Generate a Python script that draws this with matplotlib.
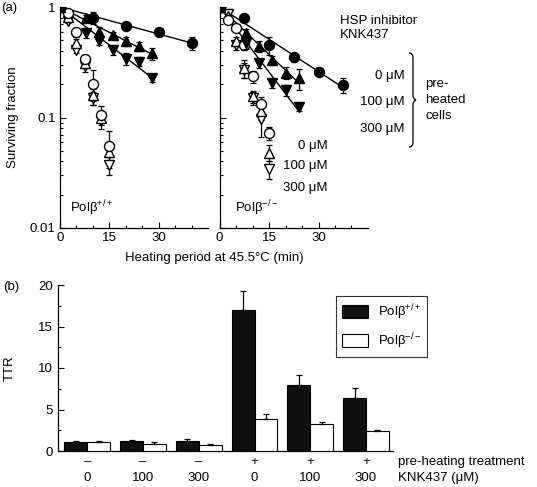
import numpy as np
import matplotlib
matplotlib.use("Agg")
import matplotlib.pyplot as plt
from matplotlib.path import Path
from matplotlib.patches import PathPatch, Patch
from matplotlib.ticker import FixedLocator, NullFormatter, LogLocator

plt.rcParams['font.family'] = ['Liberation Sans', 'DejaVu Sans']
plt.rcParams['font.size'] = 9.5
plt.rcParams['mathtext.fontset'] = 'custom'
plt.rcParams['mathtext.rm'] = 'Liberation Sans'
plt.rcParams['mathtext.it'] = 'Liberation Sans'
plt.rcParams['mathtext.default'] = 'rm'

# ---------------- data: panel (a) ----------------
# Pol beta +/+ , pre-heated cells (filled symbols)
wt_pre_t0 = [0, 10, 20, 30, 40]
wt_pre_v0 = [1.0, 0.80, 0.67, 0.59, 0.47]
wt_pre_e0 = [0, 0.10, 0.04, 0.04, 0.065]
wt_pre_t100 = [0, 8, 12, 16, 20, 24, 28]
wt_pre_v100 = [1.0, 0.79, 0.60, 0.56, 0.49, 0.44, 0.38]
wt_pre_e100 = [0, 0.05, 0.06, 0.04, 0.05, 0.04, 0.05]
wt_pre_t300 = [0, 8, 12, 16, 20, 24, 28]
wt_pre_v300 = [1.0, 0.58, 0.49, 0.41, 0.34, 0.32, 0.23]
wt_pre_e300 = [0, 0.06, 0.04, 0.04, 0.04, 0.03, 0.02]
# Pol beta +/+ , not pre-heated (open symbols)
wt_t = [0, 2.5, 5, 7.5, 10, 12.5, 15]
wt_v0 = [1.0, 0.88, 0.59, 0.34, 0.20, 0.106, 0.055]
wt_e0 = [0, 0.04, 0.05, 0.03, 0.07, 0.02, 0.02]
wt_v100 = [1.0, 0.82, 0.47, 0.31, 0.16, 0.099, 0.049]
wt_e100 = [0, 0.03, 0.04, 0.03, 0.02, 0.01, 0.01]
wt_v300 = [1.0, 0.75, 0.41, 0.29, 0.15, 0.094, 0.037]
wt_e300 = [0, 0.04, 0.03, 0.03, 0.02, 0.015, 0.007]

# Pol beta -/- , pre-heated cells (filled symbols)
ko_pre_t0 = [0, 7.5, 15, 22.5, 30, 37.5]
ko_pre_v0 = [1.0, 0.79, 0.45, 0.35, 0.26, 0.197]
ko_pre_e0 = [0, 0.05, 0.08, 0.03, 0.02, 0.03]
ko_pre_t100 = [0, 8, 12, 16, 20, 24]
ko_pre_v100 = [1.0, 0.58, 0.44, 0.33, 0.255, 0.227]
ko_pre_e100 = [0, 0.05, 0.05, 0.03, 0.03, 0.05]
ko_pre_t300 = [0, 8, 12, 16, 20, 24]
ko_pre_v300 = [1.0, 0.47, 0.31, 0.205, 0.178, 0.124]
ko_pre_e300 = [0, 0.05, 0.03, 0.02, 0.02, 0.01]
# Pol beta -/- , not pre-heated (open symbols)
ko_t = [0, 2.5, 5, 7.5, 10, 12.5, 15]
ko_v0 = [1.0, 0.77, 0.64, 0.45, 0.235, 0.133, 0.072]
ko_e0 = [0, 0.04, 0.04, 0.04, 0.03, 0.02, 0.01]
ko_v100 = [1.0, 0.83, 0.49, 0.28, 0.155, 0.115, 0.048]
ko_e100 = [0, 0.03, 0.04, 0.05, 0.02, 0.02, 0.008]
ko_v300 = [1.0, 0.86, 0.45, 0.27, 0.15, 0.096, 0.034]
ko_e300 = [0, 0.03, 0.04, 0.04, 0.02, 0.03, 0.006]

# ---------------- data: panel (b) ----------------
preheat_labels = ['–', '–', '–', '+', '+', '+']
knk_labels = ['0', '100', '300', '0', '100', '300']
ttr_wt = [1.1, 1.2, 1.25, 17.0, 7.9, 6.4]
ttr_wt_err = [0.1, 0.1, 0.15, 2.3, 1.3, 1.15]
ttr_ko = [1.1, 0.85, 0.75, 3.85, 3.2, 2.45]
ttr_ko_err = [0.05, 0.2, 0.1, 0.55, 0.25, 0.1]

W, H = 537, 487
fig = plt.figure(figsize=(W / 100, H / 100), dpi=100)


def fx(x):
    return x / W


def fy(y):
    return 1 - y / H


def ax_rect(x0, y0, x1, y1):
    return [fx(x0), fy(y1), (x1 - x0) / W, (y1 - y0) / H]


axL = fig.add_axes(ax_rect(60, 7, 208, 228))
axR = fig.add_axes(ax_rect(219.5, 7, 368, 228))
axB = fig.add_axes(ax_rect(58.3, 285, 393.3, 451))

MS = {'o': 7.2, '^': 7.6, 'v': 7.6}


def plot_series(ax, t, v, e, marker, filled, z):
    ax.errorbar(t, v, yerr=e, fmt='none', ecolor='black', elinewidth=0.9,
                capsize=2.4, capthick=0.9, zorder=z - 0.5)
    ax.plot(t, v, linestyle='none', marker=marker, markersize=MS[marker],
            markerfacecolor='black' if filled else 'white',
            markeredgecolor='black', markeredgewidth=1.0, zorder=z)


def fit_line(ax, t, v):
    t = np.asarray(t, float)
    lv = np.log10(np.asarray(v, float))
    k = np.sum(t * lv) / np.sum(t * t)
    tt = np.array([0, t.max()])
    ax.plot(tt, 10 ** (k * tt), color='black', lw=1.0, zorder=2)


def style_surv(ax, labels):
    ax.set_yscale('log')
    ax.set_ylim(0.01, 1)
    ax.set_xlim(0, 45)
    ax.spines['top'].set_visible(False)
    ax.spines['right'].set_visible(False)
    ax.xaxis.set_major_locator(FixedLocator([0, 15, 30]))
    ax.xaxis.set_minor_locator(FixedLocator([5, 10, 20, 25, 35, 40]))
    ax.yaxis.set_major_locator(LogLocator(base=10, numticks=5))
    ax.yaxis.set_minor_locator(LogLocator(base=10, subs=np.arange(2, 10), numticks=20))
    ax.yaxis.set_minor_formatter(NullFormatter())
    ax.tick_params(which='major', direction='in', length=4, width=0.8, pad=3)
    ax.tick_params(which='minor', direction='in', length=2.5, width=0.8)
    if labels:
        ax.set_yticks([0.01, 0.1, 1])
        ax.set_yticklabels(['0.01', '0.1', '1'])
    else:
        ax.yaxis.set_major_formatter(NullFormatter())
    for s in ax.spines.values():
        s.set_linewidth(0.9)
    ax.patch.set_alpha(0)


for ax, pre, opn in [
    (axL,
     [(wt_pre_t0, wt_pre_v0, wt_pre_e0, 'o'), (wt_pre_t100, wt_pre_v100, wt_pre_e100, '^'),
      (wt_pre_t300, wt_pre_v300, wt_pre_e300, 'v')],
     [(wt_t, wt_v0, wt_e0, 'o'), (wt_t, wt_v100, wt_e100, '^'), (wt_t, wt_v300, wt_e300, 'v')]),
    (axR,
     [(ko_pre_t0, ko_pre_v0, ko_pre_e0, 'o'), (ko_pre_t100, ko_pre_v100, ko_pre_e100, '^'),
      (ko_pre_t300, ko_pre_v300, ko_pre_e300, 'v')],
     [(ko_t, ko_v0, ko_e0, 'o'), (ko_t, ko_v100, ko_e100, '^'), (ko_t, ko_v300, ko_e300, 'v')]),
]:
    for t, v, e, m in pre:
        fit_line(ax, t, v)
    for i, (t, v, e, m) in enumerate(opn):
        plot_series(ax, t, v, e, m, False, 4 - i * 0.1)
    for i, (t, v, e, m) in enumerate(pre[::-1]):
        plot_series(ax, t, v, e, m, True, 5 + i * 0.1)

style_surv(axL, True)
style_surv(axR, False)
axL.set_ylabel('Surviving fraction', labelpad=8)

# panel (a) texts
fig.text(fx(1), fy(8), '(a)', ha='left', va='center')
fig.text(fx(214), fy(258), 'Heating period at 45.5°C (min)', ha='center', va='center')
fig.text(fx(70), fy(208), r'Polβ$^{+/+}$', ha='left', va='center')
fig.text(fx(235), fy(208), r'Polβ$^{−/−}$', ha='left', va='center')
fig.text(fx(340), fy(20.7), 'HSP inhibitor', ha='left', va='center')
fig.text(fx(340), fy(35), 'KNK437', ha='left', va='center')
for lab, yy in zip(['0 μM', '100 μM', '300 μM'], [76, 101.7, 129.3]):
    fig.text(fx(405), fy(yy), lab, ha='right', va='center')
for lab, yy in zip(['0 μM', '100 μM', '300 μM'], [146, 165.7, 188.3]):
    fig.text(fx(327.3), fy(yy), lab, ha='right', va='center')
for lab, yy in zip(['pre-', 'heated', 'cells'], [84.5, 100, 116]):
    fig.text(fx(425), fy(yy), lab, ha='left', va='center')

# curly brace
bx, ytop, ybot = 410.5, 53, 147
ym = (ytop + ybot) / 2
pts = [
    (bx - 1.5, ytop), (bx + 2.5, ytop), (bx + 2.5, ytop + 5),
    (bx + 2.5, ym - 5),
    (bx + 2.5, ym - 1), (bx + 5.5, ym),
    (bx + 2.5, ym + 1), (bx + 2.5, ym + 5),
    (bx + 2.5, ybot - 5),
    (bx + 2.5, ybot), (bx - 1.5, ybot),
]
codes = [Path.MOVETO, Path.CURVE3, Path.CURVE3, Path.LINETO,
         Path.CURVE3, Path.CURVE3, Path.CURVE3, Path.CURVE3,
         Path.LINETO, Path.CURVE3, Path.CURVE3]
verts = [(fx(x), fy(y)) for x, y in pts]
fig.patches.append(PathPatch(Path(verts, codes), transform=fig.transFigure,
                             fill=False, lw=0.9, edgecolor='black'))

# ---------------- panel (b) ----------------
x = np.arange(len(ttr_wt))
bw = 0.41
axB.bar(x - bw / 2, ttr_wt, width=bw, color='#111111', edgecolor='black', lw=0.8,
        yerr=[np.zeros(len(ttr_wt)), ttr_wt_err], capsize=2.5,
        error_kw=dict(elinewidth=0.9, capthick=0.9, ecolor='black'), zorder=3)
axB.bar(x + bw / 2, ttr_ko, width=bw, color='white', edgecolor='black', lw=0.8,
        yerr=[np.zeros(len(ttr_ko)), ttr_ko_err], capsize=2.5,
        error_kw=dict(elinewidth=0.9, capthick=0.9, ecolor='black'), zorder=3)
axB.set_xlim(-0.52, 5.49)
axB.set_ylim(0, 20)
axB.set_yticks([0, 5, 10, 15, 20])
axB.set_yticks(np.arange(2.5, 20, 5), minor=True)
axB.set_xticks([])
axB.spines['top'].set_visible(False)
axB.spines['right'].set_visible(False)
for s in axB.spines.values():
    s.set_linewidth(0.9)
axB.tick_params(axis='y', which='major', direction='in', length=4, width=0.8, pad=4)
axB.tick_params(axis='y', which='minor', direction='in', length=2.5, width=0.8)
axB.set_ylabel('TTR', labelpad=16)

tr = axB.get_xaxis_transform()
for i in range(len(x)):
    axB.text(x[i], (451 - 461.7) / 166, preheat_labels[i], transform=tr,
             ha='center', va='center')
    axB.text(x[i], (451 - 478.3) / 166, knk_labels[i], transform=tr,
             ha='center', va='center')
fig.text(fx(398), fy(461.7), 'pre-heating treatment', ha='left', va='center')
fig.text(fx(398), fy(478.3), 'KNK437 (μM)', ha='left', va='center')
fig.text(fx(3), fy(286.7), '(b)', ha='left', va='center')

handles = [Patch(facecolor='#111111', edgecolor='black', lw=0.8),
           Patch(facecolor='white', edgecolor='black', lw=0.8)]
leg = fig.legend(handles, [r'Polβ$^{+/+}$', r'Polβ$^{−/−}$'],
                 loc='upper left', bbox_to_anchor=(fx(336), fy(296)),
                 bbox_transform=fig.transFigure, frameon=True, fancybox=False,
                 edgecolor='black', handlelength=2.0, handleheight=1.15,
                 handletextpad=0.7, labelspacing=0.75, borderpad=0.45,
                 borderaxespad=0)
leg.get_frame().set_linewidth(0.8)

fig.savefig('out.png', dpi=100)
